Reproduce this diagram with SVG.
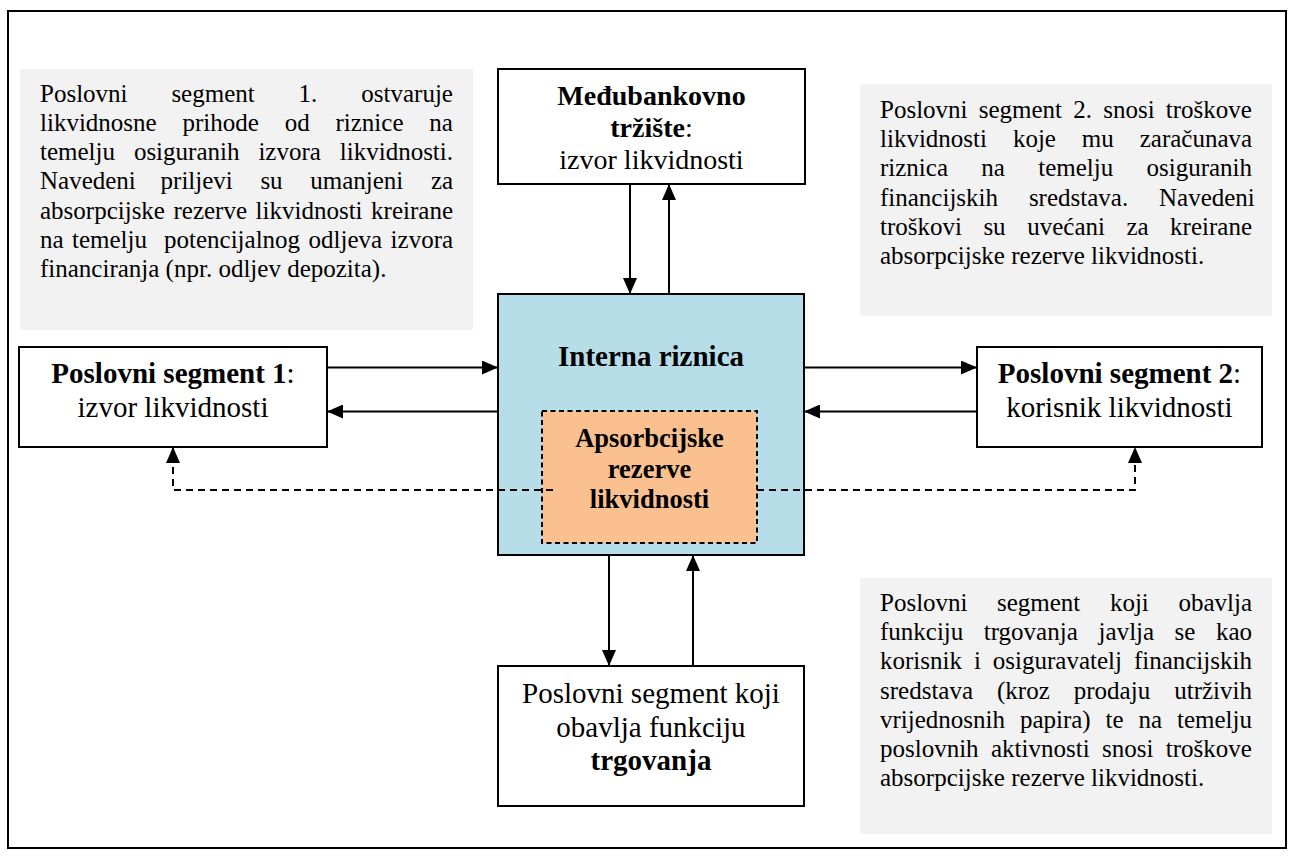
<svg xmlns="http://www.w3.org/2000/svg" width="1294" height="857" viewBox="0 0 1294 857">
<defs>
<style>
text{font-family:"Liberation Serif","Times New Roman",serif;fill:#000}
.desc{font-size:25px}
.n29{font-size:29px;text-anchor:middle}
.n28{font-size:28px;text-anchor:middle}
.n26{font-size:26.5px;text-anchor:middle;font-weight:bold}
.b{font-weight:bold}
.box{fill:#fff;stroke:#000;stroke-width:2}
.note{fill:#f2f2f2;stroke:none}
.ln{fill:none;stroke:#000;stroke-width:2}
.dash{fill:none;stroke:#000;stroke-width:2;stroke-dasharray:7 5}
</style>
<marker id="ah" viewBox="0 0 16 14" refX="16" refY="7" markerWidth="16" markerHeight="14" markerUnits="userSpaceOnUse" orient="auto">
<path d="M0,0 L16,7 L0,14 z" fill="#000"/>
</marker>
</defs>
<rect x="0" y="0" width="1294" height="857" fill="#fff"/>
<rect id="frame" x="8" y="11" width="1278" height="837" fill="none" stroke="#000" stroke-width="2"/>

<g id="note-left">
<rect class="note" x="20" y="69" width="453" height="261"/>
<text class="desc" y="101.7"><tspan x="40">Poslovni</tspan><tspan x="171.4">segment</tspan><tspan x="298.6">1.</tspan><tspan x="361.3">ostvaruje</tspan></text>
<text class="desc" y="130.9"><tspan x="40">likvidnosne</tspan><tspan x="182.5">prihode</tspan><tspan x="284.7">od</tspan><tspan x="335.5">riznice</tspan><tspan x="429.3">na</tspan></text>
<text class="desc" y="160.1"><tspan x="40">temelju</tspan><tspan x="133.9">osiguranih</tspan><tspan x="258.4">izvora</tspan><tspan x="339.8">likvidnosti.</tspan></text>
<text class="desc" y="189.3"><tspan x="40">Navedeni</tspan><tspan x="160.6">priljevi</tspan><tspan x="260.4">su</tspan><tspan x="310.2">umanjeni</tspan><tspan x="430.9">za</tspan></text>
<text class="desc" y="218.5"><tspan x="40">absorpcijske</tspan><tspan x="173.5">rezerve</tspan><tspan x="255.6">likvidnosti</tspan><tspan x="371.1">kreirane</tspan></text>
<text class="desc" y="247.7"><tspan x="40">na</tspan><tspan x="72">temelju</tspan><tspan x="164">potencijalnog</tspan><tspan x="308.5">odljeva</tspan><tspan x="390.6">izvora</tspan></text>
<text class="desc" x="40" y="276.9">financiranja (npr. odljev depozita).</text>
</g>

<g id="note-right-top">
<rect class="note" x="860" y="84" width="412" height="232"/>
<text class="desc" y="118"><tspan x="880">Poslovni</tspan><tspan x="978.7">segment</tspan><tspan x="1073.2">2.</tspan><tspan x="1103.2">snosi</tspan><tspan x="1165.8">troškove</tspan></text>
<text class="desc" y="147.2"><tspan x="880">likvidnosti</tspan><tspan x="1012.9">koje</tspan><tspan x="1081.8">mu</tspan><tspan x="1139.7">zaračunava</tspan></text>
<text class="desc" y="176.4"><tspan x="880">riznica</tspan><tspan x="981.3">na</tspan><tspan x="1038.2">temelju</tspan><tspan x="1146.5">osiguranih</tspan></text>
<text class="desc" y="205.6"><tspan x="880">financijskih</tspan><tspan x="1028.9">sredstava.</tspan><tspan x="1159">Navedeni</tspan></text>
<text class="desc" y="234.8"><tspan x="880">troškovi</tspan><tspan x="983.4">su</tspan><tspan x="1027.2">uvećani</tspan><tspan x="1126.4">za</tspan><tspan x="1170.1">kreirane</tspan></text>
<text class="desc" x="880" y="264">absorpcijske rezerve likvidnosti.</text>
</g>

<g id="note-right-bottom">
<rect class="note" x="860" y="578" width="412" height="256"/>
<text class="desc" y="611"><tspan x="880">Poslovni</tspan><tspan x="997">segment</tspan><tspan x="1109.9">koji</tspan><tspan x="1178.4">obavlja</tspan></text>
<text class="desc" y="640.2"><tspan x="880">funkciju</tspan><tspan x="983.8">trgovanja</tspan><tspan x="1098.6">javlja</tspan><tspan x="1174.6">se</tspan><tspan x="1215.9">kao</tspan></text>
<text class="desc" y="669.4"><tspan x="880">korisnik</tspan><tspan x="973.9">i</tspan><tspan x="992.8">osiguravatelj</tspan><tspan x="1133.9">financijskih</tspan></text>
<text class="desc" y="698.6"><tspan x="880">sredstava</tspan><tspan x="997">(kroz</tspan><tspan x="1073.8">prodaju</tspan><tspan x="1174.2">utrživih</tspan></text>
<text class="desc" y="727.8"><tspan x="880">vrijednosnih</tspan><tspan x="1019.9">papira)</tspan><tspan x="1105.6">te</tspan><tspan x="1138.5">na</tspan><tspan x="1177">temelju</tspan></text>
<text class="desc" y="757"><tspan x="880">poslovnih</tspan><tspan x="991">aktivnosti</tspan><tspan x="1102">snosi</tspan><tspan x="1165.8">troškove</tspan></text>
<text class="desc" x="880" y="786.2">absorpcijske rezerve likvidnosti.</text>
</g>

<g id="node-medjubankovno">
<rect class="box" x="498" y="69" width="307" height="115"/>
<text class="n28 b" x="651.5" y="105">Međubankovno</text>
<text class="n28" x="651.5" y="137"><tspan class="b">tržište</tspan>:</text>
<text class="n28" x="651.5" y="169">izvor likvidnosti</text>
</g>

<g id="node-segment1">
<rect class="box" x="19" y="347" width="308" height="100"/>
<text class="n29" x="173" y="383"><tspan class="b">Poslovni segment 1</tspan>:</text>
<text class="n29" x="173" y="417">izvor likvidnosti</text>
</g>

<g id="node-segment2">
<rect class="box" x="977" y="347" width="285" height="100"/>
<text class="n29" x="1119.5" y="383"><tspan class="b">Poslovni segment 2</tspan>:</text>
<text class="n29" x="1119.5" y="417">korisnik likvidnosti</text>
</g>

<g id="node-riznica">
<rect x="498" y="294" width="306" height="261" fill="#b7dde8" stroke="#000" stroke-width="2"/>
<text class="n29 b" x="651" y="366">Interna riznica</text>
</g>

<g id="node-rezerve">
<rect x="542" y="411" width="215" height="132" fill="#fac090" stroke="#000" stroke-width="2" stroke-dasharray="5 3.5"/>
<text class="n26" x="649.5" y="447">Apsorbcijske</text>
<text class="n26" x="649.5" y="477.5">rezerve</text>
<text class="n26" x="649.5" y="508">likvidnosti</text>
</g>

<g id="node-trgovanje">
<rect class="box" x="498" y="666" width="306" height="140"/>
<text class="n29" x="651" y="703">Poslovni segment koji</text>
<text class="n29" x="651" y="736.5">obavlja funkciju</text>
<text class="n29 b" x="651" y="770">trgovanja</text>
</g>

<g id="connectors">
<line class="ln" x1="630" y1="184" x2="630" y2="294" marker-end="url(#ah)"/>
<line class="ln" x1="669" y1="294" x2="669" y2="184" marker-end="url(#ah)"/>
<line class="ln" x1="327" y1="367.5" x2="498" y2="367.5" marker-end="url(#ah)"/>
<line class="ln" x1="498" y1="411.5" x2="327" y2="411.5" marker-end="url(#ah)"/>
<line class="ln" x1="804" y1="367.5" x2="977" y2="367.5" marker-end="url(#ah)"/>
<line class="ln" x1="977" y1="411.5" x2="804" y2="411.5" marker-end="url(#ah)"/>
<line class="ln" x1="609" y1="555" x2="609" y2="666" marker-end="url(#ah)"/>
<line class="ln" x1="693" y1="666" x2="693" y2="555" marker-end="url(#ah)"/>
<polyline class="dash" points="553,490 173,490 173,447" marker-end="url(#ah)"/>
<polyline class="dash" points="757,490 1135,490 1135,447" marker-end="url(#ah)"/>
</g>
</svg>
